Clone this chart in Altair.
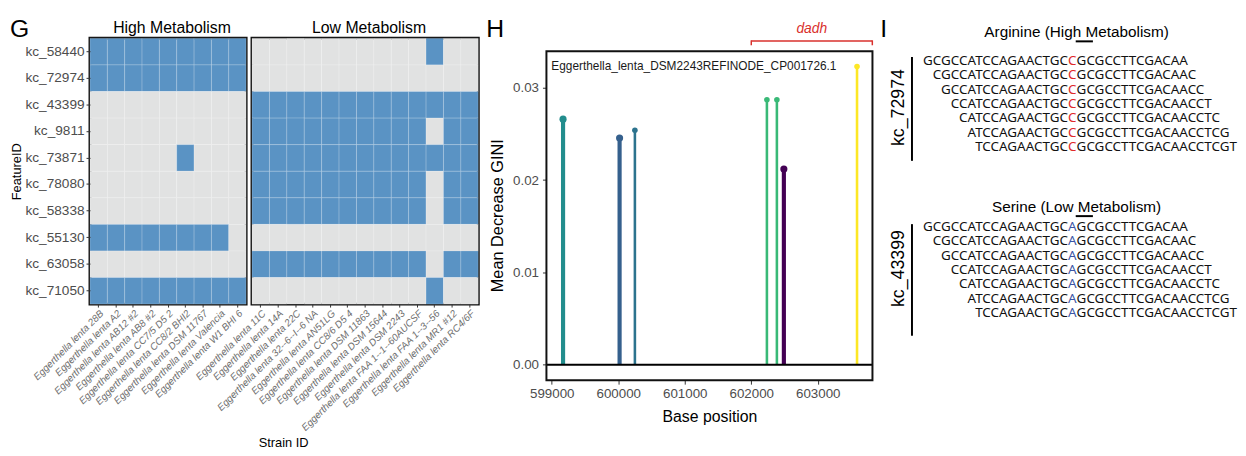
import altair as alt
import pandas as pd

FONT = "Liberation Sans"
SEQFONT = "Noto Sans"

# ---------------- Panel G data ----------------
features = ["kc_58440", "kc_72974", "kc_43399", "kc_9811", "kc_73871",
            "kc_78080", "kc_58338", "kc_55130", "kc_63058", "kc_71050"]
high_strains = ["Eggerthella lenta 28B", "Eggerthella lenta A2", "Eggerthella lenta AB12 #2",
                "Eggerthella lenta AB8 #2", "Eggerthella lenta CC7/5 D5 2", "Eggerthella lenta CC8/2 BHI2",
                "Eggerthella lenta DSM 11767", "Eggerthella lenta Valencia", "Eggerthella lenta W1 BHI 6"]
low_strains = ["Eggerthella lenta 11C", "Eggerthella lenta 14A", "Eggerthella lenta 22C",
               "Eggerthella lenta 32--6--I--6 NA", "Eggerthella lenta AN51LG", "Eggerthella lenta CC8/6 D5 4",
               "Eggerthella lenta DSM 11863", "Eggerthella lenta DSM 15644", "Eggerthella lenta DSM 2243",
               "Eggerthella lenta FAA 1--1--60AUCSF", "Eggerthella lenta FAA 1--3--56",
               "Eggerthella lenta MR1 #12", "Eggerthella lenta RC4/6F"]
high_matrix = [
    [1, 1, 1, 1, 1, 1, 1, 1, 1],
    [1, 1, 1, 1, 1, 1, 1, 1, 1],
    [0, 0, 0, 0, 0, 0, 0, 0, 0],
    [0, 0, 0, 0, 0, 0, 0, 0, 0],
    [0, 0, 0, 0, 0, 1, 0, 0, 0],
    [0, 0, 0, 0, 0, 0, 0, 0, 0],
    [0, 0, 0, 0, 0, 0, 0, 0, 0],
    [1, 1, 1, 1, 1, 1, 1, 1, 0],
    [0, 0, 0, 0, 0, 0, 0, 0, 0],
    [1, 1, 1, 1, 1, 1, 1, 1, 1],
]
low_matrix = [
    [0, 0, 0, 0, 0, 0, 0, 0, 0, 0, 1, 0, 0],
    [0, 0, 0, 0, 0, 0, 0, 0, 0, 0, 0, 0, 0],
    [1, 1, 1, 1, 1, 1, 1, 1, 1, 1, 1, 1, 1],
    [1, 1, 1, 1, 1, 1, 1, 1, 1, 1, 0, 1, 1],
    [1, 1, 1, 1, 1, 1, 1, 1, 1, 1, 1, 1, 1],
    [1, 1, 1, 1, 1, 1, 1, 1, 1, 1, 0, 1, 1],
    [1, 1, 1, 1, 1, 1, 1, 1, 1, 1, 0, 1, 1],
    [0, 0, 0, 0, 0, 0, 0, 0, 0, 0, 0, 0, 0],
    [1, 1, 1, 1, 1, 1, 1, 1, 1, 1, 0, 1, 1],
    [0, 0, 0, 0, 0, 0, 0, 0, 0, 0, 1, 0, 0],
]
group_titles = ["High Metabolism", "Low Metabolism"]

# ---------------- Panel H data ----------------
positions = [599170, 600020, 600250, 602235, 602385, 602490, 603590]
gini = [0.0266, 0.02455, 0.0254, 0.0287, 0.0287, 0.0212, 0.0323]
kmer_count = [2, 2, 1, 1, 1, 2, 1]
genome_label = ["Eggerthella_lenta_DSM2243REFINODE_CP001726.1"]
gene_name = ["dadh"]
gene_start = [602000]
gene_end = [603820]
x_ticks = [599000, 600000, 601000, 602000, 603000]
y_ticks = [0.0, 0.01, 0.02, 0.03]

# ---------------- Panel I data ----------------
kmer_prefix = ["GCGCCATCCAGAACTGC", "CGCCATCCAGAACTGC", "GCCATCCAGAACTGC", "CCATCCAGAACTGC",
               "CATCCAGAACTGC", "ATCCAGAACTGC", "TCCAGAACTGC"]
kmer_suffix = ["GCGCCTTCGACAA", "GCGCCTTCGACAAC", "GCGCCTTCGACAACC", "GCGCCTTCGACAACCT",
               "GCGCCTTCGACAACCTC", "GCGCCTTCGACAACCTCG", "GCGCCTTCGACAACCTCGT"]
block_titles = ["Arginine (High Metabolism)", "Serine (Low Metabolism)"]
block_features = ["kc_72974", "kc_43399"]
block_bases = ["C", "A"]
snp_column = 18

BLUE = "#5a93c4"
GREY = "#e1e2e2"
RED = "#d9302c"
LABEL_GREY = "#4d4d4d"
LETTER_Y = -1


def label_mark(txt, x, y, size=25, align="left", baseline="alphabetic", **kw):
    return alt.Chart(pd.DataFrame({"t": [txt]})).mark_text(
        fontSize=size, align=align, baseline=baseline, color="black", **kw).encode(
        x=alt.value(x), y=alt.value(y), text="t:N")


# ---------------- Panel G ----------------
def heat(strains, matrix, title, width, yaxis, extra=()):
    rows = [{"feature": f, "strain": s, "present": v}
            for f, r in zip(features, matrix) for s, v in zip(strains, r)]
    df = pd.DataFrame(rows)
    rect = alt.Chart(df).mark_rect(stroke="#ffffff", strokeWidth=0.6, strokeOpacity=0.3).encode(
        x=alt.X("strain:N", sort=strains, scale=alt.Scale(paddingInner=0, paddingOuter=0),
                axis=alt.Axis(title=None, labelAngle=-45, labelFontStyle="italic", labelFontSize=10,
                              labelColor="#6e6e6e", tickColor="#333333", tickSize=3, domain=False,
                              labelPadding=1, labelLimit=300)),
        y=alt.Y("feature:N", sort=features, scale=alt.Scale(paddingInner=0, paddingOuter=0), axis=yaxis),
        color=alt.Color("present:N", scale=alt.Scale(domain=[0, 1], range=[GREY, BLUE]), legend=None),
    )
    head = label_mark(title, width / 2 + 4, -10, size=16, align="center", baseline="middle")
    return alt.layer(rect, head, *extra).properties(
        width=width, height=269,
        view=alt.ViewBackground(stroke="#111111", strokeWidth=3),
    )


high = heat(high_strains, high_matrix, group_titles[0], 158,
            alt.Axis(title="FeatureID", titleFontSize=13, titleFontWeight="normal", titleColor="black",
                     labelFontSize=13.8, labelColor=LABEL_GREY, tickColor="#333333", tickSize=4,
                     domain=False, labelPadding=2, titlePadding=2),
            (label_mark("G", -81, LETTER_Y),))
low = heat(low_strains, low_matrix, group_titles[1], 229, None,
           (label_mark("Strain ID", 32, 410, size=13, align="center", baseline="middle"),))

g_block = alt.hconcat(high, low, spacing=6, bounds="flush")

# ---------------- Panel H ----------------
H_W, H_H = 330, 346
lol = pd.DataFrame({"pos": positions, "gini": gini, "kmers": kmer_count})
xs = alt.Scale(domain=[598920, 603822], nice=False, zero=False)
ys = alt.Scale(domain=[-0.00168, 0.03535], nice=False, zero=False)
xax = alt.Axis(values=x_ticks, format="d", title="Base position", titleFontSize=16, titleFontWeight="normal",
               titleColor="black", labelFontSize=13.5, labelColor=LABEL_GREY, tickColor="#333333", tickSize=4,
               domain=False, grid=False, labelPadding=3, titlePadding=8)
yax = alt.Axis(values=y_ticks, format=".2f", title="Mean Decrease GINI", titleFontSize=16.5,
               titleFontWeight="normal", titleColor="black", labelFontSize=13.5, labelColor=LABEL_GREY,
               tickColor="#333333", tickSize=4, domain=False, grid=False, labelPadding=4, titlePadding=7,
               titleY=179)
col = alt.Color("gini:Q", scale=alt.Scale(scheme="viridis"), legend=None)

stems = alt.Chart(lol).mark_rule().encode(
    x=alt.X("pos:Q", scale=xs, axis=xax),
    y=alt.Y("gini:Q", scale=ys, axis=yax),
    y2=alt.datum(0),
    color=col,
    strokeWidth=alt.StrokeWidth("kmers:Q", scale=alt.Scale(domain=[1, 2], range=[2.6, 4.2]), legend=None),
)
heads = alt.Chart(lol).mark_circle(opacity=1).encode(
    x="pos:Q", y="gini:Q", color=col,
    size=alt.Size("kmers:Q", scale=alt.Scale(domain=[1, 2], range=[32, 52]), legend=None),
)
zero = alt.Chart(pd.DataFrame({"z": [0.0]})).mark_rule(color="black", strokeWidth=2).encode(y="z:Q")
frame = alt.Chart(pd.DataFrame({"k": [0]})).mark_rect(fill="transparent", stroke="#111111", strokeWidth=2).encode(
    x=alt.value(0), x2=alt.value(H_W), y=alt.value(13), y2=alt.value(H_H))
genome = alt.Chart(pd.DataFrame({"g": genome_label})).mark_text(
    align="left", baseline="middle", fontSize=12, color="#1a1a1a").encode(
    x=alt.value(5), y=alt.value(28), text="g:N")
gene = pd.DataFrame({"name": gene_name, "start": gene_start, "end": gene_end})
gene["mid"] = (gene["start"] + gene["end"]) / 2
gene_ends = pd.DataFrame({"p": gene_start + gene_end})
bracket = alt.Chart(gene).mark_rule(color=RED, strokeWidth=1.5).encode(
    x="start:Q", x2="end:Q", y=alt.value(2.7))
bracket_ticks = alt.Chart(gene_ends).mark_rule(color=RED, strokeWidth=1.5).encode(
    x="p:Q", y=alt.value(2), y2=alt.value(7))
gene_text = alt.Chart(gene).mark_text(color=RED, fontStyle="italic", fontSize=14, baseline="middle").encode(
    x="mid:Q", y=alt.value(-9), text="name:N")

h_chart = alt.layer(stems, zero, heads, frame, genome, bracket, bracket_ticks, gene_text,
                    label_mark("H", -61, LETTER_Y)).properties(
    width=H_W, height=H_H,
    view=alt.ViewBackground(stroke="transparent"),
)

# ---------------- Panel I ----------------
# layout in character columns (x) and text lines (y, counted from the top of the panel)
ROWS_START = [1.59, 13.17]
TITLE_LINE = [-0.41, 11.79]
BAR_LINES = [(1.3, 8.55), (12.97, 20.76)]
LABEL_LINE = [4.83, 16.07]

seq_rows = []
for b in range(2):
    for r, (p, s) in enumerate(zip(kmer_prefix, kmer_suffix)):
        seq_rows.append({"line": ROWS_START[b] + r, "pre": p, "suf": s, "snp": block_bases[b],
                         "col": snp_column})
seq = pd.DataFrame(seq_rows)
blocks = pd.DataFrame({"title": block_titles, "feature": block_features,
                       "tline": TITLE_LINE, "uline": [t + 0.62 for t in TITLE_LINE],
                       "b0": [b[0] for b in BAR_LINES], "b1": [b[1] for b in BAR_LINES],
                       "lline": LABEL_LINE, "tcol": [snp_column + 0.5] * 2,
                       "u0": [snp_column + 0.4] * 2, "u1": [snp_column + 2.4] * 2,
                       "barcol": [-0.65] * 2, "labcol": [-2.15] * 2})

I_W = 327
ix = alt.Scale(domain=[-0.65, -0.65 + I_W / 8.7], nice=False, zero=False)
iy = alt.Scale(domain=[0, 20.76], reverse=True, nice=False, zero=False)
X = lambda f: alt.X(f, scale=ix, axis=None)
Y = lambda f: alt.Y(f, scale=iy, axis=None)
FS = 13.6
pre = alt.Chart(seq).mark_text(align="right", baseline="middle", dx=-4.4, font=SEQFONT, fontSize=FS,
                               color="#111111").encode(x=X("col:Q"), y=Y("line:Q"), text="pre:N")
mid = alt.Chart(seq).mark_text(align="center", baseline="middle", font=SEQFONT, fontSize=FS).encode(
    x=X("col:Q"), y=Y("line:Q"), text="snp:N",
    color=alt.Color("snp:N", scale=alt.Scale(domain=["C", "A"], range=["#e0282a", "#3b55a6"]), legend=None))
suf = alt.Chart(seq).mark_text(align="left", baseline="middle", dx=4.4, font=SEQFONT, fontSize=FS,
                               color="#111111").encode(x=X("col:Q"), y=Y("line:Q"), text="suf:N")
titles = alt.Chart(blocks).mark_text(align="center", baseline="middle", fontSize=15.5, color="black").encode(
    x=X("tcol:Q"), y=Y("tline:Q"), text="title:N")
unders = alt.Chart(blocks).mark_rule(color="black", strokeWidth=2).encode(
    x=X("u0:Q"), x2="u1:Q", y=Y("uline:Q"))
bars = alt.Chart(blocks).mark_rule(color="black", strokeWidth=2).encode(
    x=X("barcol:Q"), y=Y("b0:Q"), y2="b1:Q")
labels = alt.Chart(blocks).mark_text(angle=270, align="center", baseline="middle", fontSize=18,
                                     color="black").encode(x=X("labcol:Q"), y=Y("lline:Q"), text="feature:N")

i_chart = alt.layer(pre, mid, suf, titles, unders, bars, labels, label_mark("I", -32, LETTER_Y)).properties(
    width=I_W, height=301,
    view=alt.ViewBackground(stroke="transparent"),
)

chart = alt.hconcat(g_block, h_chart, i_chart, spacing=5).properties(
    padding={"left": 0, "top": 5, "right": 0, "bottom": 0}
).configure(font=FONT).configure_title(font=FONT).configure_view(stroke="transparent")

chart.save("out.html", embed_options={"renderer": "svg", "actions": False})
